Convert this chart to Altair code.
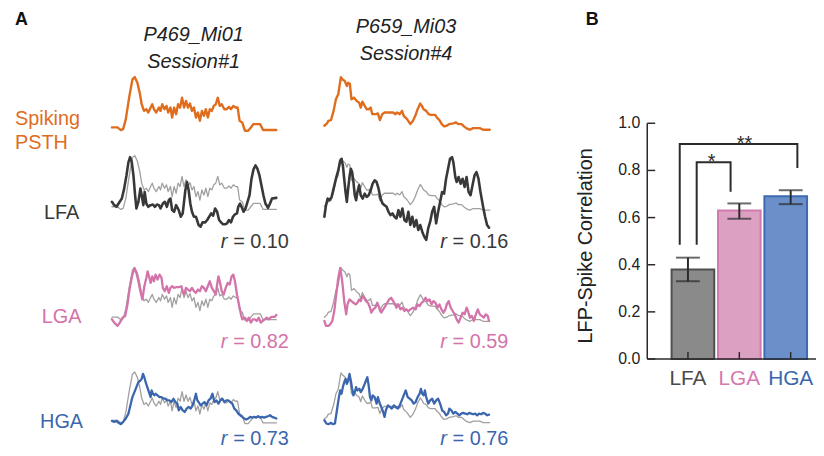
import altair as alt
import pandas as pd

FONT = "Liberation Sans"
OFF = 8  # page margin: chart pixel = picture pixel - OFF
INK = "#2b2b2b"

# ---------------- data: panel A traces (time bin, value) ----------------
psth_a = [(0,1.0),(3.4,1.0),(5.4,0.2),(6.8,0.5),(8.4,3.5),(10.4,10),(12.4,15.5),(13.8,16.2),(15.4,14.5),(16.8,11.5),
          (18,8),(19.4,6),(20.8,6.5),(22,5.5),(23.4,7),(24.4,8),(25.4,6.5),(26.8,5.5),(28.4,7),(29.4,6),(30.4,8),
          (31.8,6.5),(33,7.5),(34,5.5),(35.4,7),(36.4,4),(37.6,7),(38.8,5),(40,8),(41.2,7),(42.4,10),(43.6,7),
          (44.8,9),(46,7),(47.2,8.2),(48.4,6),(49.6,7),(50.8,4),(52,5.5),(53.2,3),(54.4,6),(55.6,4.5),(56.8,6.5),
          (58,4),(59.2,6.5),(60.4,6),(61.6,7.5),(62.8,8),(64,10),(65.2,7.5),(66.4,8),(68,6.5),(69.4,6.5),(70.8,7.2),
          (72,6.5),(73.4,7.5),(74.8,7),(76,7),(77.2,3),(78.8,2.5),(80.4,0),(82.4,0),(84,1),(85.6,2),(89.6,2),
          (91.4,0.2),(99.4,0.2)]
psth_b = [(0,1.5),(1.6,2.2),(2.4,3),(4,3.2),(5.6,6),(7,9.5),(8.4,11),(10,16.2),(11,15.5),(12.4,15),(13.6,13.5),
          (14.4,14.5),(15.4,14.2),(16.4,9.5),(18,10),(19.6,9),(21,8.5),(22,7),(23,8.8),(24.4,7.5),(25.6,6.5),(27,6.5),
          (28,7),(29,5),(31,5),(32.4,5.2),(33.6,3.2),(35,5),(36.4,5.5),(39,5.5),(41.6,5.5),(43,5),(44,5.5),(45.6,5),
          (47,6),(48,4.5),(50,3.5),(52,2),(53.6,3),(55,4.5),(56.4,6.5),(58,8.2),(59,7.5),(60,6.5),(61.6,6),(63,5),
          (64.4,4.8),(67,4.8),(68,4),(69.6,3.2),(71,2),(72.4,1.3),(74,1.5),(75.6,2),(78,2.2),(79.6,2.5),(81,2),(83,2),
          (84.4,1.3),(86,0.7),(88,0.3),(90,0.8),(94,0.8),(96,0.3),(100,0.3)]
lfa_a = [(0,8),(1.4,7),(2.8,6.5),(4.4,7.8),(6,9),(7.4,12),(8.8,16),(10,20),(11,21.5),(12,20),(13,16),(14,10),(14.8,6),
         (16,8),(17.2,12),(18,10),(19,7),(19.8,11),(20.8,7.5),(22,6.5),(23.4,7),(24.8,7.2),(26,6.5),(27.2,7.2),(28.4,7),
         (29.4,6),(30.8,7.5),(32,8),(33.2,6.5),(34.4,8.5),(35.4,9),(36.4,5.5),(37.6,5),(38.8,7),(40.4,5.5),(41.6,3.5),
         (42.8,4.5),(43.6,8),(44.4,11.5),(45.4,14),(46.4,11.5),(47.4,7.5),(48.4,5),(49.6,3.5),(50.8,3.5),(52.4,1),
         (53.6,0.5),(54.8,1.8),(56.4,1.8),(57.6,2.5),(58.8,3.5),(60,4.5),(61.2,3.8),(62.4,6),(63.6,5),(64.8,2.5),(66,1.8),
         (67.2,1.2),(68.4,1.2),(69.6,1.5),(70.8,2.5),(72,1.8),(73.2,3.5),(74.4,4.2),(75.6,4.5),(76.4,6.5),(77.4,7.5),
         (78.4,6.5),(79.6,5),(80.8,6),(82,8),(83.2,10),(84.4,15),(85.6,17.8),(86.8,19),(88,18),(89.2,16),(90.4,13),
         (91.6,10),(92.8,7.5),(94.4,6.2),(95.6,7.5),(96.8,9),(99.4,9.2)]
lfa_b = [(0,7.5),(1,11),(2,13),(3,12.5),(4.4,13.5),(5.6,16),(7,19),(8.4,21.5),(9.6,24.5),(10.4,25),(11.2,23),(12,19),
         (12.8,15),(13.6,12),(14.4,16),(15.2,19.5),(16,22),(16.8,21),(17.6,18),(18.4,14),(19.2,12.5),(20,15),(21,17),
         (22,14),(23.2,13),(24.4,14.5),(25.6,13.5),(26.8,14),(28,15.5),(29.2,17.5),(30.4,18.5),(31.6,18),(32.8,16),
         (34,13),(35.2,11.5),(36.4,11),(37.6,10.5),(38.8,9),(40,8),(41.2,8.5),(42.4,7.5),(43.6,7),(44.8,9.5),(46,7.5),
         (47.2,10),(48.4,6.5),(49.6,6),(50.8,9),(52,5),(53.2,7.5),(54.4,4.5),(55.6,6.5),(56.8,3.5),(58,5),(59.2,3),
         (60.4,1.5),(61.6,0.5),(62.8,4),(64,6),(65.2,9),(66.4,10.5),(67.6,5.5),(68.8,9),(70,12),(71.2,15),(72.4,14.5),
         (73.6,19),(74.8,22),(76,25),(77.2,25.5),(78,24),(79.2,19.5),(80,18),(81.2,19.5),(82.4,17.5),(83.6,19),
         (84.8,16.5),(86,19.5),(87.2,15),(88.4,14),(89.6,17),(90.8,20),(92,21),(93.2,19),(94.4,15),(96,10.5),
         (97.2,7.5),(98.4,5),(99.6,4.2)]
lga_a = [(0,2.5),(1.4,1.5),(3.4,0.5),(4.8,1.5),(6.4,3),(8,3.5),(9.4,7),(10.8,12),(12.4,16),(13.6,18),(14.8,16.5),
         (16,14),(17.2,11),(18.4,8.5),(19.6,12.5),(20.8,15),(21.6,17),(22.4,15.5),(23.4,13.5),(24.4,15.5),(25.4,14),
         (26.4,16),(27.6,14.5),(28.8,16),(30,15),(30.8,12),(32,11),(33.2,12.5),(34.4,10.5),(35.4,12),(36.4,12.5),
         (37.6,12),(38.8,12.2),(40.4,12.2),(42,12.5),(42.8,11),(43.6,10),(44.8,12),(46,11.5),(47.2,11),(48.4,12),
         (49.6,11),(50.8,10.5),(52,11.5),(53.2,11),(54.4,12.5),(55.6,12),(56.8,11),(58,12.5),(59.2,14),(60.4,12),
         (61.6,11),(62.8,10),(63.6,13),(64.4,15.5),(65.2,14),(66.4,11),(67.6,10),(68.8,12),(70,13.5),(71.2,13),
         (72.4,15.5),(73.4,16),(74.4,14),(75.6,10),(76.8,7),(78,4),(78.8,2.5),(80.4,3),(81.6,2),(82.8,3),(84,1.5),
         (85.2,2.5),(86.4,2.5),(87.6,2),(88.8,3),(90,1.5),(91.2,2),(92.4,2.5),(93.6,3),(94.8,2.5),(96.4,3.2),
         (98.4,3.2),(99.4,3.8)]
lga_b = [(0,2),(1,0.5),(2.4,0.5),(3.6,1),(4.8,2),(6,5),(7.2,10),(8.4,15),(9.6,18),(10.8,14),(12,8),(13.2,4),(14,7),
         (15.2,8.5),(16.4,8),(17.6,7.5),(19,7),(20,7.5),(21,8.5),(22,8),(23,9.5),(24,9),(25.2,8),(26.4,7.5),(27.6,6),
         (28.4,4.5),(29.6,5.5),(30.8,6),(32,7.5),(33.2,6),(34.4,4.5),(35.6,5.5),(36.8,6.5),(38,7.5),(39.2,8.5),(40.4,9),
         (41.6,8),(42.8,7),(43.6,6),(44.8,7),(46,5.5),(47.2,6),(48.4,5),(49.6,5.5),(50.8,5),(52,5.5),(53.6,6),
         (55.2,5.5),(56.4,7),(57.6,6.5),(58.8,7.5),(60,8),(61.2,9),(62.4,8),(63.6,8.5),(64.8,7),(66,8),(67.2,7.5),
         (68.4,6),(69.6,7),(70.8,5.5),(72,4.5),(73.2,5.5),(74,7),(75.2,8),(76.4,6),(77.6,5),(78.8,4),(80,2.5),
         (81.2,1.5),(82.4,3),(83.6,4.5),(84.8,4),(86,6),(87.2,4.5),(88,3),(89.2,3.5),(90.4,2),(91.6,4),(92.8,5.5),
         (94,4),(95.2,3.5),(96.4,3),(97.6,4),(98.8,3.5),(99.6,2)]
hga_a = [(0,1.8),(1.4,1.5),(2.8,1.8),(4,1.2),(5.4,0.8),(6.8,1.5),(8.4,2.5),(10,4),(11.4,7),(12.4,9),(13.6,10.5),
         (14.8,12),(16,13.5),(17.2,14),(18,14.5),(18.8,16),(19.6,15),(20.4,13.5),(21.4,12),(22.4,10.5),(23.4,9),
         (24,11),(24.8,10),(25.6,9.5),(26.4,10),(27.6,9.5),(28.8,9),(30,9),(31.2,8.5),(32.4,8.5),(33.6,8),(34.8,8),
         (36,7.5),(37.2,8.5),(38.4,7.5),(39.6,7),(40.4,5),(41.6,6),(42.8,5),(44,4.5),(45.2,5.5),(46.4,6),(47.6,5.5),
         (48.8,6.5),(50,8.5),(50.8,10),(51.6,8),(52.4,7.5),(53.6,6.5),(54.8,7),(56,7.5),(57.2,6.5),(58.4,8),(59.6,8.5),
         (60.8,10),(62,7.5),(63.2,8),(64.4,7),(65.6,8),(66.8,8.5),(68,7.5),(69.2,8),(70.4,8),(71.6,7.5),(72.8,7),
         (74,5.5),(75.2,5),(76.4,4),(77.6,3.5),(78.8,3),(80,2.5),(81.2,2.2),(82.4,2.5),(83.6,3),(84.8,2.8),(86,3),
         (87.2,2.8),(88.4,3.2),(89.6,2.8),(90.8,3),(92,2.8),(93.2,3),(94.4,3.2),(95.6,3.5),(96.8,3),(98,2.8),(99.4,2.5)]
hga_b = [(0,2),(1.2,1),(2.4,0.8),(4,1.2),(5.2,0.8),(6.4,1),(7.6,5),(8.8,9),(9.6,11),(10.4,10),(11.2,12),(12,13.5),
         (12.8,14.5),(13.6,13),(14.4,14),(15.2,16),(16,14),(16.8,11.5),(17.6,9.5),(18.4,10.5),(19.2,12),(20,11),
         (21.2,11.5),(22,10.5),(23.2,11.5),(24.4,13),(25.2,14),(26,15),(26.8,12.5),(27.6,9),(28.4,8),(29.2,9.5),
         (30.4,9),(31.6,7),(32.4,9),(33.2,7.5),(34,6.5),(35.2,5),(36.4,3),(37.2,5),(38.4,6.5),(39.6,6),(40.8,5.5),
         (42,6.5),(43.2,6),(44.4,5.5),(45.6,6.5),(46.8,8),(48,9.5),(49.2,11),(50.4,9),(51.6,8.5),(52.8,8),(54,7),
         (55.2,7.5),(56.4,9),(57.6,10),(58.4,11.5),(59.2,10),(60,9.5),(60.8,11),(61.6,9),(62.8,7),(64,8),(65.2,8.5),
         (66.4,7),(67.6,8),(68.8,8.5),(70,7),(71.2,5),(72.4,4.5),(73.6,3.5),(74.8,4),(75.6,5.5),(76.8,5),(78,4),
         (79.2,4.5),(80.4,4),(81.6,3.5),(82.8,4),(84,4.2),(85.2,4),(86.4,3.8),(87.6,4.2),(88.8,4),(90,3.8),(91.2,4),
         (92.4,3.5),(93.6,4),(94.8,3.8),(96,4.2),(97.2,4),(98.4,3.5),(99.6,3.7)]

sessions = [("P469_Mi01", "Session#1"), ("P659_Mi03", "Session#4")]
row_names = ["LFA", "LGA", "HGA"]
r_values = [["0.10", "0.82", "0.73"], ["0.16", "0.59", "0.76"]]

# ---------------- data: panel B ----------------
bands = ["LFA", "LGA", "HGA"]
means = [0.38, 0.63, 0.69]
err_lo = [0.33, 0.595, 0.657]
err_hi = [0.43, 0.66, 0.716]
y_ticks = [0.0, 0.2, 0.4, 0.6, 0.8, 1.0]
y_tick_labels = ["0.0", "0.2", "0.4", "0.6", "0.8", "1.0"]
# significance brackets: left leg x, right leg x, left bottom, right bottom, top, label, label x
brackets = [(0.17, 0.83, 0.485, 0.71, 0.835, "*", 0.46),
            (-0.16, 2.13, 0.485, 0.81, 0.912, "**", 1.10)]

# ---------------- styles ----------------
ORANGE = "#E06D1E"
DARK = "#383838"
PINK = "#D473A9"
BLUE = "#3B66AE"
GRAY = "#A0A0A0"
bar_fill = ["#8A8A8A", "#DCA0C3", "#6B8FC9"]
bar_edge = ["#4F4F4F", "#D07AAE", "#3E6AB1"]
label_col = ["#4A4A4A", "#D677AE", "#3A66AE"]

ONE = pd.DataFrame({"k": [0]})


def sc(domain, rng):
    return alt.Scale(domain=domain, range=[r - OFF for r in rng], nice=False, zero=False)


def trace(points, xr, ydom, yr, color, width):
    df = pd.DataFrame(points, columns=["t", "v"])
    return alt.Chart(df).mark_line(color=color, strokeWidth=width, strokeJoin="round", strokeCap="round").encode(
        x=alt.X("t:Q", scale=sc([0, 100], xr), axis=None),
        y=alt.Y("v:Q", scale=sc(ydom, yr), axis=None),
    )


def label(text, x, y, size=20, color="#222222", align="center", baseline="middle",
          style="normal", weight="normal", angle=0):
    kw = dict(text=text, fontSize=size, color=color, align=align, baseline=baseline,
              fontStyle=style, fontWeight=weight, font=FONT)
    if angle:
        kw["angle"] = angle
    return alt.Chart(ONE).mark_text(**kw).encode(x=alt.value(x - OFF), y=alt.value(y - OFF))


layers = []

# ---------- panel A ----------
XA = [112.7, 279.3]
XB_ = [326.7, 493.3]
# spiking PSTH row
layers.append(trace(psth_a, XA, [0, 21], [130, 60], ORANGE, 2.4))
layers.append(trace(psth_b, XB_, [0, 21], [130, 60], ORANGE, 2.4))
# gray PSTH overlays
layers.append(trace(psth_a, XA, [0, 16.2], [210, 155], GRAY, 1.3))
layers.append(trace(psth_b, XB_, [0, 16.2], [211, 158], GRAY, 1.3))
layers.append(trace(psth_a, XA, [0, 16.2], [321, 268], GRAY, 1.3))
layers.append(trace(psth_b, XB_, [0, 16.2], [323, 268], GRAY, 1.3))
layers.append(trace(psth_a, XA, [0, 16.2], [425, 373], GRAY, 1.3))
layers.append(trace(psth_b, XB_, [0, 16.2], [425, 374], GRAY, 1.3))
# LFP traces
layers.append(trace(lfa_a, XA, [0, 25], [228.3, 145], DARK, 2.6))
layers.append(trace(lfa_b, XB_, [0, 29], [241.7, 145], DARK, 2.6))
layers.append(trace(lga_a, XA, [0, 22], [328.3, 255], PINK, 2.3))
layers.append(trace(lga_b, XB_, [0, 22], [328.3, 255], PINK, 2.3))
layers.append(trace(hga_a, XA, [0, 19], [428.3, 365], BLUE, 2.3))
layers.append(trace(hga_b, XB_, [0, 19], [428.3, 365], BLUE, 2.3))

# texts panel A
layers.append(label("A", 15, 23, size=18, weight="bold", align="left", baseline="alphabetic", color="#111111"))
layers.append(label(sessions[0][0], 195, 40, style="italic", baseline="alphabetic"))
layers.append(label(sessions[0][1], 195, 66.7, style="italic", baseline="alphabetic"))
layers.append(label(sessions[1][0], 409, 31.7, style="italic", baseline="alphabetic"))
layers.append(label(sessions[1][1], 409, 58.3, style="italic", baseline="alphabetic"))
layers.append(label("Spiking", 15, 118, color=ORANGE, align="left"))
layers.append(label("PSTH", 15, 142, color=ORANGE, align="left"))
row_cols = [DARK, PINK, BLUE]
row_y = [213, 318, 423]
r_base = [248, 349, 447]
r_right = [291, 512]
for i, name in enumerate(row_names):
    layers.append(label(name, 62, row_y[i], color=row_cols[i]))
    for c in range(2):
        layers.append(label(" = " + r_values[c][i], r_right[c], r_base[i], color=row_cols[i], align="right",
                            baseline="alphabetic"))
        layers.append(label("r", r_right[c] - 62, r_base[i], color=row_cols[i], align="right", style="italic",
                            baseline="alphabetic"))

# ---------- panel B ----------
XBAR = sc([0, 2], [693, 796.5])
YBAR = sc([0, 1], [360, 122.5])
bar_df = pd.DataFrame({"band": bands, "pos": [0, 1, 2], "mean": means, "lo": err_lo, "hi": err_hi,
                       "base": [0.0] * 3})
xpos = alt.X("pos:Q", scale=XBAR, axis=None)
layers.append(alt.Chart(bar_df).mark_bar(size=43, strokeWidth=2).encode(
    x=xpos, y=alt.Y("mean:Q", scale=YBAR, axis=None), y2="base:Q",
    fill=alt.Fill("band:N", scale=alt.Scale(domain=bands, range=bar_fill), legend=None),
    stroke=alt.Stroke("band:N", scale=alt.Scale(domain=bands, range=bar_edge), legend=None),
))
# x ticks (inward)
layers.append(alt.Chart(bar_df).mark_rule(color=INK, strokeWidth=1.5).encode(
    x=xpos, y=alt.Y("base:Q", scale=YBAR, axis=None), y2=alt.value(353 - OFF)))
# error bars
layers.append(alt.Chart(bar_df).mark_rule(color=INK, strokeWidth=2).encode(
    x=xpos, y=alt.Y("lo:Q", scale=YBAR, axis=None), y2="hi:Q"))
for col in ["lo", "hi"]:
    layers.append(alt.Chart(bar_df).mark_tick(orient="horizontal", size=24, thickness=2, color=INK).encode(
        x=xpos, y=alt.Y(f"{col}:Q", scale=YBAR, axis=None)))
# brackets
rows = []
for i, (x0, x1, b0, b1, top, s, sx) in enumerate(brackets):
    rows += [(i, 0, x0, b0), (i, 1, x0, top), (i, 2, x1, top), (i, 3, x1, b1)]
br_df = pd.DataFrame(rows, columns=["id", "k", "x", "y"])
layers.append(alt.Chart(br_df).mark_line(color=INK, strokeWidth=2).encode(
    x=alt.X("x:Q", scale=XBAR, axis=None), y=alt.Y("y:Q", scale=YBAR, axis=None),
    detail="id:N", order="k:Q"))
star_df = pd.DataFrame([(b[6], b[4], b[5]) for b in brackets], columns=["x", "y", "s"])
layers.append(alt.Chart(star_df).mark_text(fontSize=20, font=FONT, color=INK, baseline="alphabetic", dy=6).encode(
    x=alt.X("x:Q", scale=XBAR, axis=None), y=alt.Y("y:Q", scale=YBAR, axis=None), text="s:N"))
# axes
axis_df = pd.DataFrame({"lo": [0.0], "hi": [1.0]})
layers.append(alt.Chart(axis_df).mark_rule(color=INK, strokeWidth=1.5).encode(
    x=alt.value(652 - OFF), y=alt.Y("lo:Q", scale=YBAR, axis=None), y2="hi:Q"))
layers.append(alt.Chart(axis_df).mark_rule(color=INK, strokeWidth=1.5).encode(
    x=alt.value(652 - OFF), x2=alt.value(822 - OFF), y=alt.Y("lo:Q", scale=YBAR, axis=None)))
tick_df = pd.DataFrame({"v": y_ticks, "lab": y_tick_labels})
layers.append(alt.Chart(tick_df).mark_rule(color=INK, strokeWidth=1.5).encode(
    y=alt.Y("v:Q", scale=YBAR, axis=None), x=alt.value(652 - OFF), x2=alt.value(660 - OFF)))
layers.append(alt.Chart(tick_df).mark_text(fontSize=16, font=FONT, color="#222222", align="right",
                                           baseline="middle").encode(
    y=alt.Y("v:Q", scale=YBAR, axis=None), x=alt.value(645 - OFF), text="lab:N"))
layers.append(alt.Chart(bar_df).mark_text(fontSize=21, font=FONT, baseline="middle").encode(
    x=xpos, y=alt.value(380 - OFF), text="band:N",
    color=alt.Color("band:N", scale=alt.Scale(domain=bands, range=label_col), legend=None)))
layers.append(label("LFP-Spike Correlation", 590, 246, angle=270, color="#222222"))
layers.append(label("B", 590, 23, size=18, weight="bold", align="left", baseline="alphabetic", color="#111111"))

chart = alt.layer(*layers).resolve_scale(x="independent", y="independent").properties(
    width=814, height=440, padding=0, autosize=alt.AutoSizeParams(type="none")
).configure_view(stroke=None)

chart.save("out.html", embed_options={"renderer": "svg", "actions": False})
